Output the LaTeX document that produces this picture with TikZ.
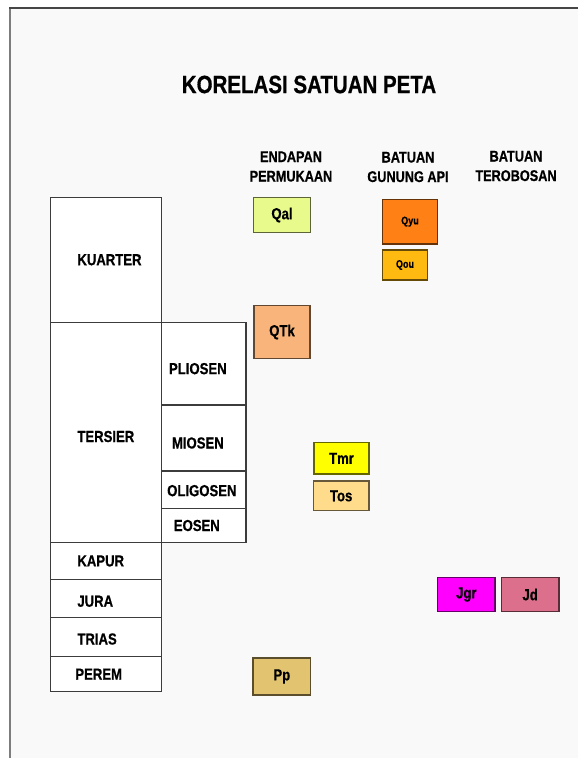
\documentclass[tikz,border=0pt]{standalone}
\usepackage{fontspec}
\setmainfont{Liberation Sans}[FakeStretch=0.82,
  BoldFeatures={FakeStretch=0.82, FakeBold=0.6}]
\usetikzlibrary{positioning}

\definecolor{panelbg}{RGB}{249,249,249}
\definecolor{frametop}{RGB}{70,70,70}
\definecolor{frameleft}{RGB}{125,125,125}
\definecolor{boxline}{RGB}{60,60,60}
\definecolor{qalgreen}{RGB}{232,250,140}
\definecolor{qtkorange}{RGB}{248,180,122}
\definecolor{qyuorange}{RGB}{255,128,20}
\definecolor{qouamber}{RGB}{255,186,18}
\definecolor{tmryellow}{RGB}{255,255,0}
\definecolor{tostan}{RGB}{255,220,140}
\definecolor{jgrmagenta}{RGB}{255,0,255}
\definecolor{jdpink}{RGB}{220,112,140}
\definecolor{pptan}{RGB}{226,196,112}

\tikzset{
  era/.style={draw=boxline, fill=white, line width=1.2pt, outer sep=0pt,
    inner sep=0pt, anchor=north west, minimum width=111pt},
  epoch/.style={era, minimum width=84.3pt},
  eralbl/.style={anchor=west, inner sep=0pt},
  unit/.style={draw=#1!40!black, fill=#1, line width=1.2pt, outer sep=0pt,
    inner sep=0pt, anchor=north west},
  hdr/.style={align=center, font=\bfseries\fontsize{15.5}{19.5}\selectfont},
}

\begin{document}
\begin{tikzpicture}[x=1pt, y=-1pt, font=\bfseries\fontsize{16}{19}\selectfont]
  \useasboundingbox (0,0) rectangle (578,758);
  \fill[white] (0,0) rectangle (578,758);
  \fill[panelbg] (10,8) rectangle (578,758);
  \draw[frameleft, line width=2pt] (10,8) -- (10,758);
  \draw[frametop, line width=2pt] (9,8) -- (578,8);

  % Title and column headings
  \node[font=\bfseries\fontsize{25}{30}\selectfont] (title) at (309,84.5) {KORELASI SATUAN PETA};
  \node[hdr] (endapan) at (291,166.5) {ENDAPAN\\PERMUKAAN};
  \node[hdr] (gunungapi) at (408,167) {BATUAN\\GUNUNG API};
  \node[hdr] (terobosan) at (516,166) {BATUAN\\TEROBOSAN};

  % Time scale: eras
  \node[era, minimum height=125pt] (kuarter) at (50.7,197.3) {};
  \node[era, minimum height=220.4pt] (tersier) at (50.7,322.3) {};
  \node[era, minimum height=36.6pt] (kapur) at (50.7,542.7) {};
  \node[era, minimum height=38pt] (jura) at (50.7,579.3) {};
  \node[era, minimum height=39.4pt] (trias) at (50.7,617.3) {};
  \node[era, minimum height=35pt] (perem) at (50.7,656.7) {};

  \node[eralbl] (kuarterlbl) at ([xshift=26.5pt]kuarter.west) {KUARTER};
  \node[eralbl] (tersierlbl) at ([xshift=26.5pt,yshift=-4pt]tersier.west) {TERSIER};
  \node[eralbl] (kapurlbl) at ([xshift=26.5pt]kapur.west) {KAPUR};
  \node[eralbl] (juralbl) at ([xshift=26.5pt,yshift=-3pt]jura.west) {JURA};
  \node[eralbl] (triaslbl) at ([xshift=26.5pt,yshift=-2pt]trias.west) {TRIAS};
  \node[eralbl] (peremlbl) at ([xshift=24.5pt]perem.west) {PEREM};

  % Time scale: epochs of the Tersier
  \node[epoch, minimum height=82.7pt] (pliosen) at (161.7,322.3) {};
  \node[epoch, minimum height=66pt] (miosen) at (161.7,405) {};
  \node[epoch, minimum height=37.3pt] (oligosen) at (161.7,471) {};
  \node[epoch, minimum height=34.4pt] (eosen) at (161.7,508.3) {};

  \node (plioslbl) at ([xshift=-6pt,yshift=-5pt]pliosen.center) {PLIOSEN};
  \node (mioslbl) at ([xshift=-6pt,yshift=-5pt]miosen.center) {MIOSEN};
  \node (oligolbl) at ([xshift=-2pt,yshift=-1pt]oligosen.center) {OLIGOSEN};
  \node (eoslbl) at ([xshift=-7pt]eosen.center) {EOSEN};

  % Map units
  \node[unit=qalgreen, minimum width=57.4pt, minimum height=35.4pt] (qal) at (253.3,197.3) {Qal};
  \node[unit=qtkorange, minimum width=56pt, minimum height=52.6pt] (qtk) at (254,305.7) {QTk};
  \node[unit=qyuorange, minimum width=55.4pt, minimum height=44.7pt,
    font=\bfseries\fontsize{11}{13}\selectfont] (qyu) at (382.3,199.3) {Qyu};
  \node[unit=qouamber, minimum width=45.4pt, minimum height=30pt,
    font=\bfseries\fontsize{11}{13}\selectfont] (qou) at (382.3,250) {Qou};
  \node[unit=tmryellow, minimum width=55pt, minimum height=31.3pt] (tmr) at (314,442.7) {Tmr};
  \node[unit=tostan, minimum width=55.7pt, minimum height=29.7pt] (tos) at (313.3,481) {Tos};
  \node[unit=jgrmagenta, minimum width=57.3pt, minimum height=34.4pt] (jgr) at (437.7,577.3) {Jgr};
  \node[unit=jdpink, minimum width=57.7pt, minimum height=34.4pt] (jd) at (501.3,577.3) {Jd};
  \node[unit=pptan, minimum width=57.7pt, minimum height=37pt] (pp) at (253,658) {Pp};
\end{tikzpicture}
\end{document}
